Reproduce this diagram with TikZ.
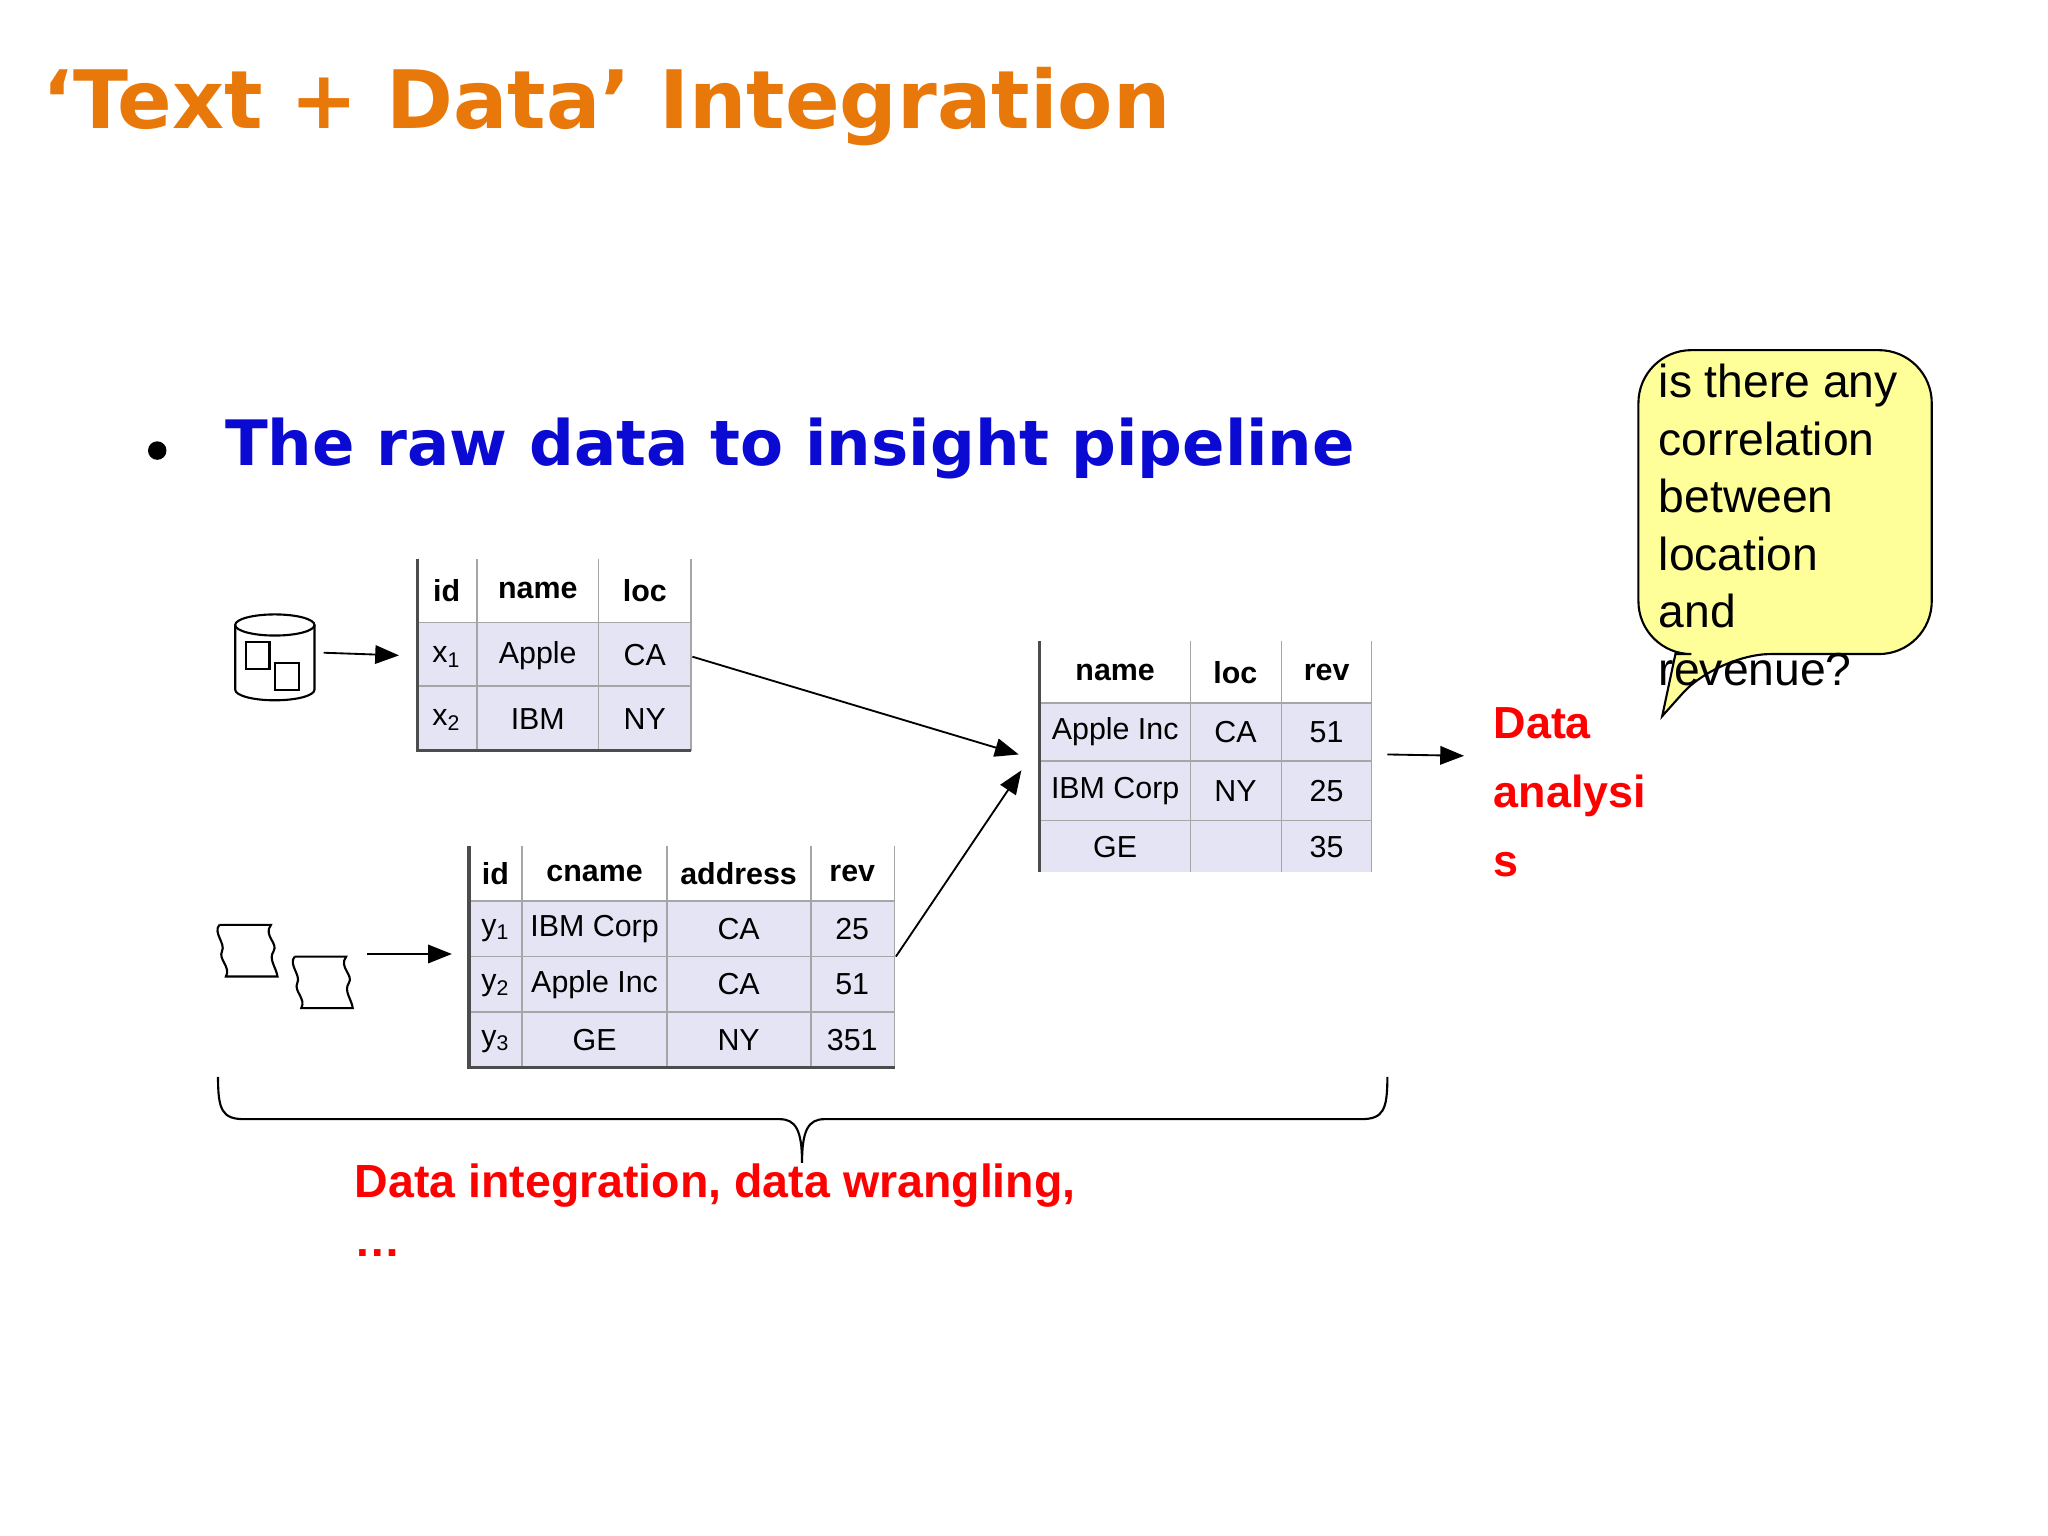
\documentclass[tikz,border=0pt]{standalone}
\usepackage{fontspec}
\setmainfont{Liberation Sans}
\newfontfamily\verd{DejaVu Sans}
\usetikzlibrary{arrows.meta}
\definecolor{ttl}{HTML}{E8780A}
\definecolor{blu}{HTML}{0A0AD2}
\definecolor{lav}{HTML}{E4E4F4}
\definecolor{callout}{HTML}{FFFF99}
\begin{document}
\begin{tikzpicture}[x=0.5pt,y=-0.5pt,
  arr/.style={-{Triangle[length=9pt,width=7pt]},line width=0.7pt},
  cell/.style={font=\fontsize{11.5}{14}\selectfont,anchor=center,inner sep=0},
  hd/.style={cell,font=\fontsize{11.5}{14}\selectfont\bfseries},
  red/.style={text=red,font=\fontsize{17}{20}\selectfont\bfseries,anchor=base west,inner sep=0}]
\useasboundingbox (0,0) rectangle (1550,1162);
\node[anchor=base west,inner sep=0,text=ttl,font=\verd\fontsize{30.5}{36}\selectfont\bfseries] (title) at (32,97) {‘Text + Data’ Integration};
\node[anchor=base west,inner sep=0,text=blu,font=\verd\fontsize{23.7}{30}\selectfont\bfseries] (sub) at (170,352) {The raw data to insight pipeline};
\fill (119,341) circle (7);
% table 1
\fill[lav] (316,471) rectangle (523,568);
\draw[gray!70,line width=0.6pt] (316,471)--(523,471) (316,519)--(523,519) (361,423)--(361,568) (453,423)--(453,568) (523,423)--(523,568);
\draw[black!70,line width=1.2pt] (316,423)--(316,568)--(523,568);
\node[hd] at (338,447) {id}; \node[hd] at (407,447) {name}; \node[hd] at (488,447) {loc};
\node[cell] at (338,497) {x\textsubscript{1}}; \node[cell] at (407,496) {Apple}; \node[cell] at (488,496) {CA};
\node[cell] at (338,545) {x\textsubscript{2}}; \node[cell] at (407,544) {IBM}; \node[cell] at (488,544) {NY};
% table 2
\fill[lav] (355,682) rectangle (677,808);
\draw[gray!70,line width=0.6pt] (355,682)--(677,682) (355,724)--(677,724) (355,766)--(677,766) (395,640)--(395,808) (505,640)--(505,808) (614,640)--(614,808) (677,640)--(677,808);
\draw[black!70,line width=1.2pt] (355,640)--(355,808)--(677,808);
\node[hd] at (375,661) {id}; \node[hd] at (450,661) {cname}; \node[hd] at (559,661) {address}; \node[hd] at (645,661) {rev};
\node[cell] at (375,704) {y\textsubscript{1}}; \node[cell] at (450,703) {IBM Corp}; \node[cell] at (559,703) {CA}; \node[cell] at (645,703) {25};
\node[cell] at (375,746) {y\textsubscript{2}}; \node[cell] at (450,745) {Apple Inc}; \node[cell] at (559,745) {CA}; \node[cell] at (645,745) {51};
\node[cell] at (375,788) {y\textsubscript{3}}; \node[cell] at (450,787) {GE}; \node[cell] at (559,787) {NY}; \node[cell] at (645,787) {351};
% table 3
\fill[lav] (787,532) rectangle (1038,660);
\draw[gray!70,line width=0.6pt] (787,532)--(1038,532) (787,576)--(1038,576) (787,621)--(1038,621) (901,485)--(901,660) (970,485)--(970,660) (1038,485)--(1038,660);
\draw[black!70,line width=1.2pt] (787,485)--(787,660);
\node[hd] at (844,509) {name}; \node[hd] at (935,509) {loc}; \node[hd] at (1004,509) {rev};
\node[cell] at (844,554) {Apple Inc}; \node[cell] at (935,554) {CA}; \node[cell] at (1004,554) {51};
\node[cell] at (844,599) {IBM Corp}; \node[cell] at (935,599) {NY}; \node[cell] at (1004,599) {25};
\node[cell] at (844,641) {GE}; \node[cell] at (1004,641) {35};
% cylinder
\draw[line width=0.8pt] (178,473)--(178,522) arc[start angle=180,end angle=0,x radius=30,y radius=8]--(238,473);
\draw[line width=0.8pt] (208,473) ellipse[x radius=30,y radius=8];
\draw[line width=0.8pt] (186,486) rectangle (204,506) (208,502) rectangle (226,522);
% scrolls
\foreach \ox/\oy in {163/700,220/724}{
 \draw[line width=0.8pt,shift={(\ox,\oy)}] (3,0)--(42,0) .. controls (36,8) and (48,14) .. (44,20) .. controls (40,26) and (46,32) .. (47,39)--(8,39) .. controls (12,32) and (2,26) .. (5,20) .. controls (8,14) and (-2,6) .. (3,0);}
% coordinates
\coordinate (c1) at (245,494); \coordinate (t1in) at (302,496);
\coordinate (s1) at (278,722); \coordinate (t2in) at (342,722);
\coordinate (t1out) at (524,497); \coordinate (t3a) at (771,571);
\coordinate (t2out) at (678,724); \coordinate (t3b) at (773,583);
\coordinate (t3out) at (1050,571); \coordinate (da) at (1108,572);
\draw[arr] (c1)--(t1in);
\draw[arr] (s1)--(t2in);
\draw[arr] (t1out)--(t3a);
\draw[arr] (t2out)--(t3b);
\draw[arr] (t3out)--(da);
% brace
\draw[line width=0.8pt] (165,815) .. controls (165,840) and (168,847) .. (185,847) -- (590,847) .. controls (602,847) and (607,855) .. (607,880)
  (607,880) .. controls (607,855) and (612,847) .. (624,847) -- (1030,847) .. controls (1047,847) and (1050,840) .. (1050,815);
% red labels
\node[red] (d1) at (1130,559) {Data};
\node[red] (d2) at (1130,611) {analysi};
\node[red] (d3) at (1130,663) {s};
\node[red,font=\fontsize{17.6}{20}\selectfont\bfseries] (bt) at (268,906) {Data integration, data wrangling,};
\node[red,font=\fontsize{17.6}{20}\selectfont\bfseries] (bt2) at (268,951) {…};
% callout
\draw[fill=callout,line width=0.8pt] (1300,495) -- (1258,542) -- (1268,495) [rounded corners=20] -- (1240,495) -- (1240,265) -- (1462,265) -- (1462,495) -- cycle;
\node[anchor=north west,align=left,inner sep=0,font=\fontsize{17.5}{21.8}\selectfont] (q) at (1255,275) {is there any\\correlation\\between\\location\\and\\revenue?};
\end{tikzpicture}
\end{document}
